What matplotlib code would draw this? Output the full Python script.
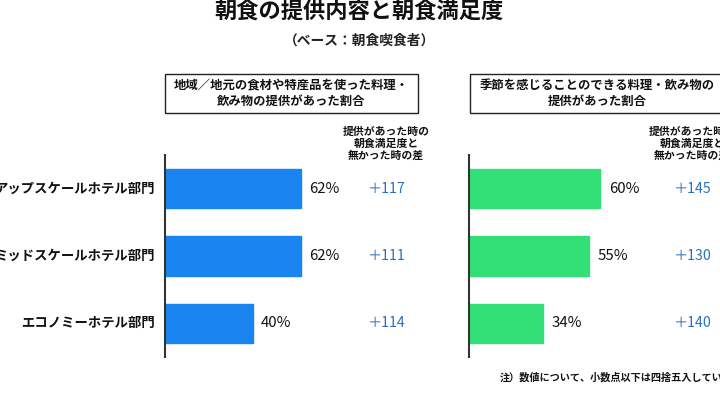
import matplotlib
matplotlib.use("Agg")
import matplotlib.pyplot as plt
from matplotlib.patches import Rectangle
from matplotlib.transforms import blended_transform_factory

plt.rcParams['font.family'] = ['Noto Sans CJK JP', 'DejaVu Sans']

categories = ["アップスケールホテル部門", "ミッドスケールホテル部門", "エコノミーホテル部門"]
local_food = [62, 62, 40]
seasonal = [60, 55, 34]
local_diff = [117, 111, 114]
seasonal_diff = [145, 130, 140]

title = "朝食の提供内容と朝食満足度"
subtitle = "（ベース：朝食喫食者）"
box_left = "地域／地元の食材や特産品を使った料理・\n飲み物の提供があった割合"
box_right = "季節を感じることのできる料理・飲み物の\n提供があった割合"
diff_header = "提供があった時の\n朝食満足度と\n無かった時の差"
note = "注）数値について、小数点以下は四捨五入しています。"

W, H = 720, 395
fig = plt.figure(figsize=(W / 100, H / 100), dpi=100)


def fx(x):
    return x / W


def fy(y):
    return 1 - y / H


blue = "#1a85f0"
green = "#33e078"
diff_color = "#2a70c0"

# title texts
fig.text(fx(359), fy(11), title, ha="center", va="center", fontsize=16, fontweight="bold", color="#111")
fig.text(fx(360), fy(41), subtitle, ha="center", va="center", fontsize=9.9, fontweight="bold", color="#222")

# boxes
for (x0, x1, txt) in [(165, 418, box_left), (470, 724, box_right)]:
    fig.patches.append(Rectangle((fx(x0), fy(113)), fx(x1 - x0), (113 - 74) / H,
                                 transform=fig.transFigure, fill=False, edgecolor="#222", lw=1.0))
    fig.text(fx((x0 + x1) / 2), fy(93.5), txt, ha="center", va="center", fontsize=8.9,
             fontweight="bold", color="#111", linespacing=1.25)

# diff headers
for cx in (386, 692):
    fig.text(fx(cx), fy(144), diff_header, ha="center", va="center", fontsize=7.8,
             fontweight="bold", color="#111", linespacing=1.2)

ax_bottom = (H - 357) / H
ax_height = 202 / H
ax_width = 219 / W

panels = [
    (165, local_food, local_diff, blue, 386),
    (469, seasonal, seasonal_diff, green, 692),
]

ypos = list(range(len(categories)))
for i, (left, vals, diffs, color, dcx) in enumerate(panels):
    ax = fig.add_axes([fx(left), ax_bottom, ax_width, ax_height])
    ax.barh(ypos, vals, height=0.58, color=color, edgecolor=color)
    ax.set_xlim(0, 100)
    ax.set_ylim(2.5, -0.5)
    for s in ("top", "right", "bottom"):
        ax.spines[s].set_visible(False)
    ax.spines["left"].set_color("#333")
    ax.spines["left"].set_linewidth(1.5)
    ax.set_xticks([])
    ax.set_yticks([])
    for y, v in zip(ypos, vals):
        ax.annotate(f"{v}%", xy=(v, y), xytext=(6, 0), textcoords="offset points",
                    ha="left", va="center", fontsize=10.8, color="#111")
    tr = blended_transform_factory(fig.transFigure, ax.transData)
    for y, d in zip(ypos, diffs):
        ax.text(fx(dcx), y, f"＋{d}", transform=tr, ha="center", va="center",
                fontsize=10.2, color=diff_color, clip_on=False)
    if i == 0:
        for y, c in zip(ypos, categories):
            ax.annotate(c, xy=(0, y), xytext=(-7.5, 0), textcoords="offset points",
                        ha="right", va="center", fontsize=9.6, fontweight="bold", color="#111")

fig.text(fx(500), fy(378), note, ha="left", va="center", fontsize=7.3, fontweight="bold", color="#111")

fig.savefig("out.png", dpi=100)
